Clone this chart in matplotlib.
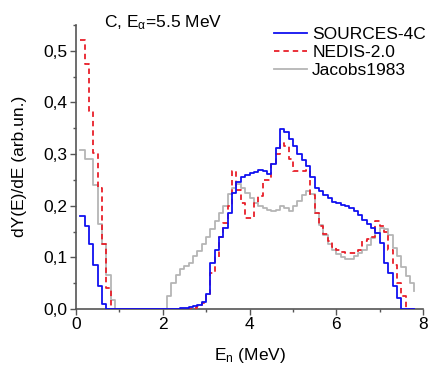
import numpy as np
import matplotlib
matplotlib.use("Agg")
import matplotlib.pyplot as plt
from matplotlib.ticker import MultipleLocator, FuncFormatter

plt.rcParams['font.family'] = ['Liberation Sans', 'DejaVu Sans']
plt.rcParams['mathtext.fontset'] = 'custom'
plt.rcParams['mathtext.rm'] = 'Liberation Sans'
plt.rcParams['mathtext.it'] = 'Liberation Sans:italic'

# spectra, 0.1 MeV bins, left edges 0.1 ... 7.7 MeV
bin_start = 0.1
bin_width = 0.1
spec_end = 7.8

sources4c = [0.18, 0.16, 0.125, 0.085, 0.045, 0.01, 0, 0, 0, 0,
             0, 0, 0, 0, 0, 0, 0, 0, 0, 0,
             0, 0, 0, 0.001, 0.002, 0.003, 0.005, 0.008, 0.014, 0.03,
             0.09, 0.115, 0.14, 0.157, 0.185, 0.225, 0.245, 0.255, 0.26, 0.264,
             0.266, 0.27, 0.268, 0.262, 0.28, 0.312, 0.348, 0.343, 0.33, 0.315,
             0.3, 0.289, 0.276, 0.255, 0.235, 0.228, 0.221, 0.215, 0.208, 0.205,
             0.202, 0.199, 0.195, 0.19, 0.183, 0.172, 0.165, 0.157, 0.147, 0.128,
             0.09, 0.07, 0.045, 0.022, 0, 0, 0]

nedis = [0.52, 0.474, 0.383, 0.302, 0.235, 0.125, 0.04, 0, 0, 0,
         0, 0, 0, 0, 0, 0, 0, 0, 0, 0,
         0, 0, 0, 0, 0, 0, 0.002, 0.005, 0.011, 0.03,
         0.07, 0.1, 0.14, 0.166, 0.2, 0.267, 0.23, 0.205, 0.176, 0.176,
         0.205, 0.218, 0.25, 0.25, 0.28, 0.3, 0.322, 0.315, 0.29, 0.267,
         0.267, 0.267, 0.27, 0.22, 0.185, 0.16, 0.146, 0.131, 0.121, 0.115,
         0.11, 0.108, 0.108, 0.108, 0.115, 0.131, 0.135, 0.14, 0.17, 0.16,
         0.15, 0.115, 0.085, 0.05, 0.025, 0, 0]

jacobs = [0.307, 0.29, 0.29, 0.24, 0.165, 0.126, 0.066, 0.017, 0, 0,
          0, 0, 0, 0, 0, 0, 0, 0, 0, 0,
          0.025, 0.05, 0.066, 0.077, 0.083, 0.09, 0.102, 0.113, 0.125, 0.14,
          0.155, 0.17, 0.186, 0.2, 0.222, 0.235, 0.243, 0.235, 0.225, 0.215,
          0.205, 0.199, 0.196, 0.192, 0.19, 0.192, 0.2, 0.196, 0.19, 0.2,
          0.21, 0.22, 0.228, 0.222, 0.185, 0.163, 0.144, 0.125, 0.115, 0.106,
          0.1, 0.097, 0.097, 0.102, 0.108, 0.115, 0.124, 0.137, 0.147, 0.157,
          0.155, 0.143, 0.118, 0.102, 0.082, 0.063, 0.05]
jacobs_end = 0.035

edges = bin_start + bin_width * np.arange(len(sources4c))
x = np.append(edges, spec_end)

fig = plt.figure(figsize=(4.30, 3.71), dpi=100)
ax = fig.add_axes([76/430, 1 - 309/371, 347/430, 284/371])

ax.step(x, np.append(jacobs, jacobs_end), where='post', color='#b5b5b5', lw=1.3,
        label='Jacobs1983', zorder=2)
ax.step(x, np.append(nedis, nedis[-1]), where='post', color='#e8202a', lw=1.3,
        ls=(0, (3, 2.2)), label='NEDIS-2.0', zorder=3)
ax.step(x, np.append(sources4c, sources4c[-1]), where='post', color='#1010f0', lw=1.3,
        label='SOURCES-4C', zorder=4)

ax.set_xlim(0, 8)
ax.set_ylim(0, 0.55)
ax.xaxis.set_major_locator(MultipleLocator(2))
ax.xaxis.set_minor_locator(MultipleLocator(1))
ax.yaxis.set_major_locator(MultipleLocator(0.1))
ax.yaxis.set_minor_locator(MultipleLocator(0.05))
ax.yaxis.set_major_formatter(FuncFormatter(lambda v, p: f"{v:.1f}".replace('.', ',')))
ax.xaxis.set_major_formatter(FuncFormatter(lambda v, p: f"{v:.0f}"))

for s in ['top', 'right']:
    ax.spines[s].set_visible(False)
for s in ['left', 'bottom']:
    ax.spines[s].set_color('#555555')
    ax.spines[s].set_linewidth(1.2)
ax.tick_params(which='major', direction='out', length=4, width=1, color='#555555',
               labelsize=12.5, pad=2)
ax.tick_params(which='minor', direction='out', length=2.5, width=1, color='#555555')

fig.text(20/430, 1 - 166/371, 'dY(E)/dE (arb.un.)', rotation=90, ha='center',
         va='center', fontsize=12.5)
fig.text(250/430, 1 - 360/371, r'E$_\mathrm{n}$ (MeV)', ha='center', va='baseline',
         fontsize=12.5)
fig.text(104/430, 1 - 27/371, r'C, E$_\mathrm{α}$=5.5 MeV', ha='left', va='baseline',
         fontsize=12.5)

h, l = ax.get_legend_handles_labels()
ax.legend(h[::-1], l[::-1], loc='upper left', bbox_to_anchor=(274/430, 1 - 27/371),
          bbox_transform=fig.transFigure, frameon=False, fontsize=12.5,
          handlelength=1.9, handletextpad=0.3, labelspacing=0.15, borderpad=0,
          borderaxespad=0)

fig.savefig('out.png', dpi=100)
